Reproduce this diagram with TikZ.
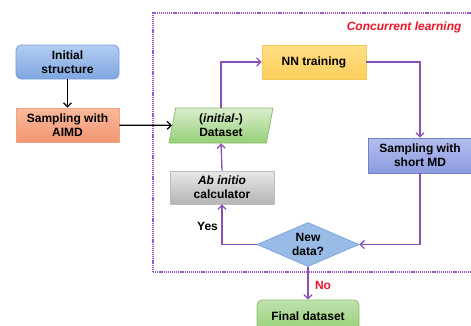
\documentclass[tikz,border=0pt]{standalone}
\usepackage{fontspec}
\setmainfont{Liberation Sans}
\usetikzlibrary{arrows.meta,shapes.geometric}
\definecolor{purp}{RGB}{140,80,185}
\definecolor{purpdot}{RGB}{150,90,205}
\definecolor{redtxt}{RGB}{240,20,40}
\definecolor{blueT}{RGB}{178,205,240}
\definecolor{blueB}{RGB}{126,166,224}
\definecolor{blueD}{RGB}{120,160,215}
\definecolor{oraT}{RGB}{249,185,155}
\definecolor{oraB}{RGB}{242,150,115}
\definecolor{oraD}{RGB}{240,165,130}
\definecolor{grnT}{RGB}{218,237,205}
\definecolor{grnB}{RGB}{150,208,120}
\definecolor{grnD}{RGB}{140,190,110}
\definecolor{yelT}{RGB}{255,222,130}
\definecolor{yelB}{RGB}{253,208,95}
\definecolor{yelD}{RGB}{245,200,90}
\definecolor{lavT}{RGB}{180,190,238}
\definecolor{lavB}{RGB}{140,155,222}
\definecolor{lavD}{RGB}{110,130,200}
\definecolor{gryT}{RGB}{232,232,232}
\definecolor{gryB}{RGB}{180,180,180}
\definecolor{gryD}{RGB}{190,190,190}
\definecolor{diaF}{RGB}{152,188,230}
\definecolor{diaD}{RGB}{126,166,224}
\begin{document}
\begin{tikzpicture}[x=1pt,y=-1pt,
  txt/.style={font=\fontsize{12}{14}\selectfont\bfseries, align=center},
  box/.style={txt, rectangle, minimum width=103pt, minimum height=34pt, line width=0.8pt, inner sep=1pt},
  blackflow/.style={black, line width=1.2pt, -{Straight Barb[length=4pt,width=8pt]}},
  flow/.style={purp, line width=1.3pt, -{Straight Barb[length=4pt,width=8pt]}},
  frame/.style={purpdot, line width=1.2pt, dash pattern=on 1.2pt off 0.9pt}]
\useasboundingbox (0,0) rectangle (471,325);
\clip (0,0) rectangle (471,325);
% dotted frame
\draw[frame] (153,272) -- (153,13) -- (490,13);
\draw[frame] (153,272) -- (490,272);
\node[txt, font=\fontsize{12}{14}\selectfont\bfseries\itshape, text=redtxt, anchor=east] (cl) at (465,27) {Concurrent learning};
% nodes
\node[box, rounded corners=5pt, top color=blueT, bottom color=blueB, draw=blueD] (init) at (67.5,62) {Initial\\structure};
\node[box, top color=oraT, bottom color=oraB, draw=oraD] (aimd) at (67.5,125) {Sampling with\\AIMD};
\node[txt, trapezium, trapezium left angle=75, trapezium right angle=105, trapezium stretches body=true, minimum width=104pt, minimum height=35pt, inner sep=1pt, line width=0.8pt, top color=grnT, bottom color=grnB, draw=grnD] (data) at (221,125.5) {(\textit{initial}-)\\Dataset};
\node[box, minimum width=104pt, top color=yelT, bottom color=yelB, draw=yelD] (nn) at (314,62) {NN training};
\node[box, minimum width=104pt, minimum height=35pt, top color=lavT, bottom color=lavB, draw=lavD] (md) at (420,155.5) {Sampling with\\short MD};
\node[box, minimum width=104pt, minimum height=33pt, top color=gryT, bottom color=gryB, draw=gryD] (abi) at (222,187.5) {\textit{Ab initio}\\calculator};
\node[txt, diamond, aspect=2.3, minimum width=102pt, minimum height=44pt, inner sep=0pt, fill=diaF, draw=diaD, line width=0.8pt] (dia) at (308,244.5) {New\\data?};
\node[box, rounded corners=5pt, minimum width=102pt, minimum height=32pt, top color=grnT!60!grnB, bottom color=grnB, draw=grnD] (fin) at (308,316) {Final dataset};
% connectors
\draw[blackflow] (init) -- (aimd);
\draw[blackflow] (aimd) -- (data);
\draw[flow] (data.north) |- (nn.west);
\draw[flow] (nn.east) -| (md.north);
\draw[flow] (md.south) |- (dia.east);
\draw[flow] (dia.west) -| (abi.south);
\draw[flow] (abi.north) -- (data.south);
\draw[flow] (dia.south) -- (fin.north);
% labels
\node[txt] (yes) at (207.5,226) {Yes};
\node[txt, text=redtxt] (no) at (323,285) {No};
\end{tikzpicture}
\end{document}
